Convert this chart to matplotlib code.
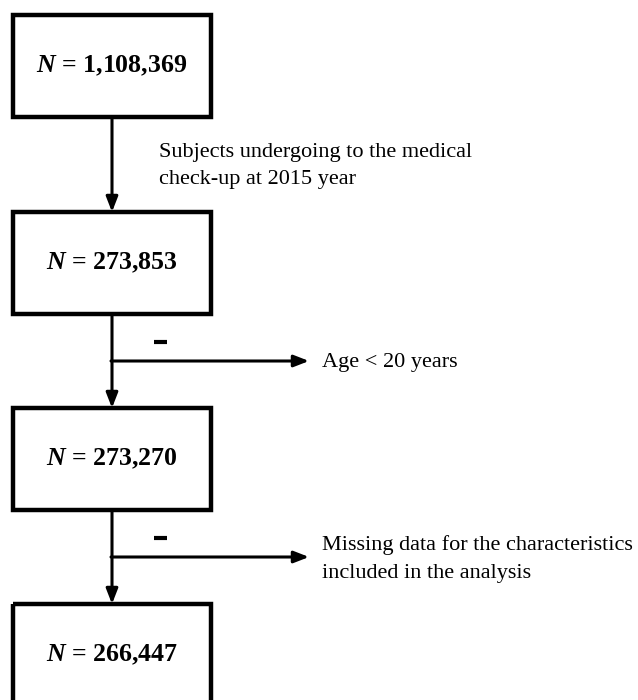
import matplotlib.pyplot as plt
from matplotlib.patches import Rectangle

plt.rcParams['font.family'] = ['Liberation Serif', 'DejaVu Serif']
plt.rcParams['mathtext.fontset'] = 'custom'
plt.rcParams['mathtext.it'] = 'Liberation Serif:italic:bold'
plt.rcParams['mathtext.rm'] = 'Liberation Serif:bold'
plt.rcParams['mathtext.bf'] = 'Liberation Serif:bold'

# box contents, top to bottom
counts = ["1,108,369", "273,853", "273,270", "266,447"]
# note between box 1 and 2
step_note = "Subjects undergoing to the medical\ncheck-up at 2015 year"
# exclusions (after box 2 and box 3)
exclusions = ["Age < 20 years", "Missing data for the characteristics\nincluded in the analysis"]

box_x0, box_x1 = 13, 211
box_tops = [15, 212, 408, 604]
box_h = 102
mid_x = 112

fig = plt.figure(figsize=(6.38, 7.00), dpi=100)
ax = fig.add_axes([0, 0, 1, 1])
ax.set_xlim(0, 638)
ax.set_ylim(700, 0)
ax.axis('off')

for top, c in zip(box_tops, counts):
    ax.add_patch(Rectangle((box_x0, top), box_x1 - box_x0, box_h,
                           fill=False, ec='black', lw=3.2, joinstyle='miter'))
    ax.text((box_x0 + box_x1) / 2, top + box_h / 2, r"$N$ = " + c,
            ha='center', va='center', fontsize=18.6, fontweight='bold')

arrow = dict(arrowstyle='-|>,head_length=0.9,head_width=0.35', lw=2.2, color='black',
             shrinkA=0, shrinkB=0)

# vertical arrows between boxes
for i in range(len(box_tops) - 1):
    ax.annotate("", xy=(mid_x, box_tops[i + 1]), xytext=(mid_x, box_tops[i] + box_h),
                arrowprops=arrow)

ax.text(159, 166, step_note, ha='left', va='center', fontsize=16, linespacing=1.6)

# side arrows for exclusions
for i, ex in enumerate(exclusions):
    y_mid = (box_tops[i + 1] + box_h + box_tops[i + 2]) / 2
    ax.annotate("", xy=(309, y_mid), xytext=(mid_x - 1, y_mid), arrowprops=arrow)
    ax.plot([154, 167], [y_mid - 19, y_mid - 19], color='black', lw=3,
            solid_capstyle='butt')
    ax.text(322, y_mid + (2 if "\n" in ex else 1), ex, ha='left', va='center',
            fontsize=16, linespacing=1.6)

fig.savefig("out.png", dpi=100)
